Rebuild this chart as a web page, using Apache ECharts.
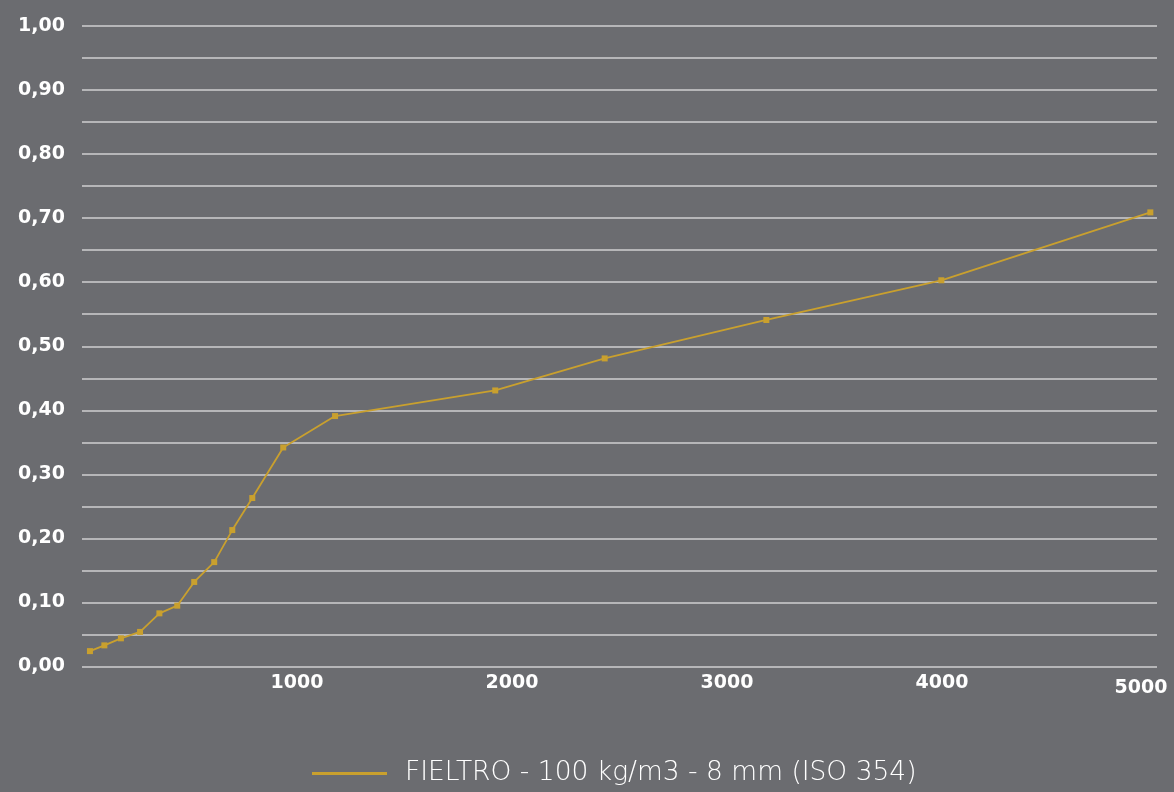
<!DOCTYPE html>
<html>
<head>
<meta charset="utf-8">
<script src="https://cdn.jsdelivr.net/npm/echarts@6/dist/echarts.min.js"></script>
<style>
html,body{margin:0;padding:0;background:#6b6c70;}
#c{width:1174px;height:792px;}
</style>
</head>
<body>
<div id="c"></div>
<script>
const seriesName = 'FIELTRO - 100 kg/m3 - 8 mm (ISO 354)';
const freqs = [37, 104, 181, 270, 360, 443, 522, 615, 699, 792, 936, 1177, 1922, 2431, 3183, 3997, 4969];
const alphas = [0.024, 0.033, 0.044, 0.054, 0.083, 0.095, 0.132, 0.163, 0.213, 0.263, 0.342, 0.391, 0.431, 0.481, 0.541, 0.603, 0.709];
const xTicks = [1000, 2000, 3000, 4000, 5000];
const yTickLabels = ['0,00','0,10','0,20','0,30','0,40','0,50','0,60','0,70','0,80','0,90','1,00'];

const chart = echarts.init(document.getElementById('c'));
const axisFont = '"DejaVu Sans", sans-serif';
const legendFont = '"DejaVu Sans", "Open Sans", sans-serif';
chart.setOption({
  backgroundColor: '#6b6c70',
  animation: false,
  grid: {left: 82, right: 17, top: 26, bottom: 792 - 666.5, containLabel: false},
  legend: {
    data: [seriesName],
    left: 307, top: 755,
    itemWidth: 75, itemHeight: 3, itemGap: 22,
    icon: 'rect',
    textStyle: {color: '#ffffff', fontSize: 26.5, fontWeight: 200, fontFamily: legendFont, padding: [0, 0, 0, 13]}
  },
  xAxis: {
    type: 'value', min: 0, max: 5000, interval: 1000,
    axisLine: {show: false}, axisTick: {show: false}, splitLine: {show: false},
    axisLabel: {
      showMinLabel: false,
      color: '#ffffff', fontSize: 19, fontWeight: 'bold', fontFamily: axisFont, margin: 7,
      formatter: function (v) {
        if (xTicks.indexOf(v) < 0) return '';
        if (v === 5000) return '{last|' + v + '}';
        return String(v);
      },
      rich: {last: {color: '#ffffff', fontSize: 19, fontWeight: 'bold', fontFamily: axisFont, padding: [5, 32, 0, 0]}}
    }
  },
  yAxis: {
    type: 'value', min: 0, max: 1, interval: 0.05,
    axisLine: {show: false}, axisTick: {show: false},
    splitLine: {show: true, lineStyle: {color: '#cfcfd0', width: 1.5}},
    axisLabel: {
      color: '#ffffff', fontSize: 19, fontWeight: 'bold', fontFamily: axisFont, margin: 17,
      formatter: function (v) {
        const k = Math.round(v * 100);
        if (k % 10 !== 0) return '';
        return yTickLabels[k / 10];
      }
    }
  },
  series: [{
    name: seriesName,
    type: 'line',
    data: freqs.map((f, i) => [f, alphas[i]]),
    symbol: 'rect', symbolSize: 6,
    lineStyle: {color: '#c9a02e', width: 1.8},
    itemStyle: {color: '#c9a02e'}
  }]
});
</script>
</body>
</html>
